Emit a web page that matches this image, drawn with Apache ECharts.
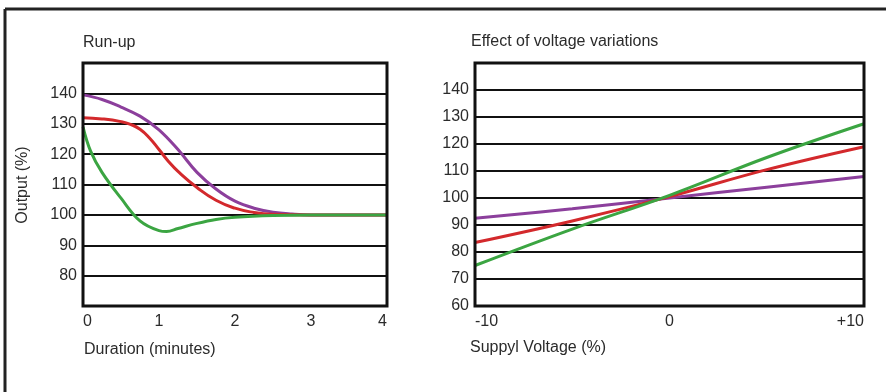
<!DOCTYPE html>
<html><head><meta charset="utf-8">
<script src="https://cdn.jsdelivr.net/npm/echarts@6/dist/echarts.min.js"></script>
<style>html,body{margin:0;padding:0;background:#fff}#c{width:886px;height:392px}</style>
</head><body><div id="c"></div>
<script>
// Run-up chart data (duration in minutes, output %)
const runupPurple = [[0,139.5],[0.25,138],[0.5,135.5],[0.75,132.5],[1,128],[1.25,121.5],[1.5,114],[1.75,108.5],[2,104.5],[2.25,102.2],[2.5,100.9],[2.75,100.3],[3,100],[3.5,100],[4,100]];
const runupRed = [[0,132],[0.25,131.6],[0.5,130.7],[0.625,129.8],[0.75,128.2],[0.875,125.3],[1,121.5],[1.125,117.6],[1.25,114.3],[1.5,109],[1.75,104.8],[2,102.2],[2.25,100.8],[2.5,100.2],[3,100],[3.5,100],[4,100]];
const runupGreen = [[0,129],[0.1,121],[0.25,114],[0.5,105.5],[0.75,98],[1,94.8],[1.1,94.5],[1.25,95.5],[1.5,97.2],[1.75,98.5],[2,99.2],[2.5,99.8],[3,100],[3.5,100],[4,100]];
// Voltage variation chart data (supply voltage %, output %)
const voltPurple = [[-10,92.5],[-5,96],[0,100],[5,104],[10,108]];
const voltRed = [[-10,83.5],[-5,91.5],[0,100.5],[5,110.5],[10,119]];
const voltGreen = [[-10,75],[-5,88.5],[0,101],[5,115],[10,127.5]];
const runupXTicks = [0,1,2,3,4];
const voltXTicks = [-10,0,10];
const titles = ['Run-up','Effect of voltage variations'];
const axisNames = ['Output (%)','Duration (minutes)','Suppyl Voltage (%)'];

const colors = {purple:'#8c3f9c', red:'#d3292c', green:'#3ba542'};
const font = 'Liberation Sans, Arial, Helvetica, sans-serif';
const txt = '#2b2b2b';

function yAx(idx, min){
  return {type:'value', gridIndex:idx, min:min, max:150, interval:10,
    axisLine:{show:false}, axisTick:{show:false},
    axisLabel:{color:txt, fontSize:16, fontFamily:font, margin:6,
      formatter:v=> (v===150 || (idx===0 && v===70)) ? '' : String(v)},
    splitLine:{show:true, lineStyle:{color:'#111', width:2}}};
}
function xAx(idx, min, max, interval, fmt){
  return {type:'value', gridIndex:idx, min:min, max:max, interval:interval,
    axisLine:{show:false}, axisTick:{show:false}, splitLine:{show:false},
    axisLabel:{color:txt, fontSize:16, fontFamily:font, margin:8,
      alignMinLabel:'left', alignMaxLabel:'right', formatter:fmt}};
}
function line(xi, data, color, smooth){
  return {type:'line', xAxisIndex:xi, yAxisIndex:xi, data:data, smooth:smooth,
    showSymbol:false, symbol:'none', lineStyle:{color:color, width:3}, z:3};
}

const chart = echarts.init(document.getElementById('c'), null, {renderer:'canvas'});
chart.setOption({
  animation:false,
  backgroundColor:'#fff',
  grid:[
    {left:83, top:63, width:304, height:243, show:true, borderColor:'#111', borderWidth:3, backgroundColor:'transparent', z:4},
    {left:475, top:63, width:389, height:243, show:true, borderColor:'#111', borderWidth:3, backgroundColor:'transparent', z:4}
  ],
  xAxis:[
    xAx(0, 0, 4, 1, v=>String(v)),
    xAx(1, -10, 10, 10, v=> v>0 ? '+'+v : String(v))
  ],
  yAxis:[ yAx(0,70), yAx(1,60) ],
  series:[
    line(0, runupPurple, colors.purple, 0.4),
    line(0, runupRed, colors.red, 0.5),
    line(0, runupGreen, colors.green, 0.4),
    line(1, voltPurple, colors.purple, 0.4),
    line(1, voltRed, colors.red, 0.4),
    line(1, voltGreen, colors.green, 0.4)
  ],
  graphic:[
    {type:'line', shape:{x1:5, y1:9, x2:886, y2:9}, style:{stroke:'#222', lineWidth:3}},
    {type:'line', shape:{x1:5, y1:9, x2:5, y2:392}, style:{stroke:'#222', lineWidth:3}},
    {type:'text', left:83, top:35, style:{text:titles[0], fill:txt, font:'16px '+font}},
    {type:'text', left:471, top:34, style:{text:titles[1], fill:txt, font:'16px '+font}},
    {type:'text', x:23, y:185, rotation:Math.PI/2, style:{text:axisNames[0], fill:txt, font:'16px '+font, align:'center', verticalAlign:'middle'}},
    {type:'text', left:84, top:342, style:{text:axisNames[1], fill:txt, font:'16px '+font}},
    {type:'text', left:470, top:340, style:{text:axisNames[2], fill:txt, font:'16px '+font}}
  ]
});
</script></body></html>
